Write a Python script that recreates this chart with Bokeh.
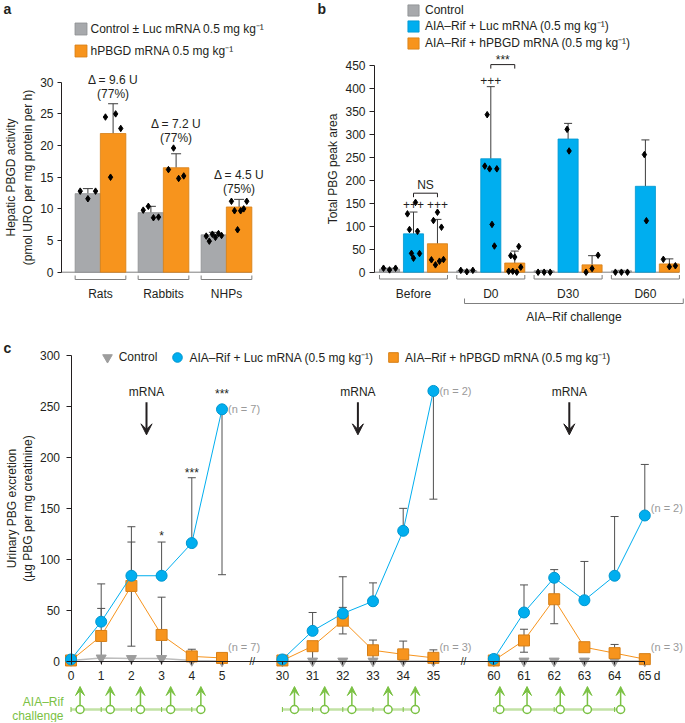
import numpy as np
from bokeh.plotting import figure
from bokeh.models import (Range1d, LinearAxis, FixedTicker, Whisker, TeeHead, Legend,
                          LegendItem, Arrow, VeeHead, ColumnDataSource)
from bokeh.layouts import column, row
from bokeh.embed import file_html
from bokeh.resources import INLINE
from bokeh.core.properties import value

FONT = "Liberation Sans"
INK = "#231F20"
GRAY = "#A7A9AC"; GRAY_EDGE = "#8D8F92"
ORANGE = "#F7941D"; ORANGE_EDGE = "#D67F17"
BLUE = "#00AEEF"; BLUE_EDGE = "#0096CF"
GREEN = "#7AC143"; GREEN_LIGHT = "#C2E2A5"
ERR = "#3C3C3C"
NCOL = "#9A9A9A"
BRACKET = "#7F7F7F"

# ---------------- panel a data ----------------
a_groups = ["Rats", "Rabbits", "NHPs"]
a_yticks = [0, 5, 10, 15, 20, 25, 30]
a_ctrl_mean = [12.4, 9.4, 5.9]
a_ctrl_upper = [13.2, 10.4, 6.3]
a_hp_mean = [21.9, 16.5, 10.3]
a_hp_upper = [26.6, 18.7, 11.5]
a_ctrl_pts = [[12.8, 11.6, 12.8], [9.8, 10.4, 8.6, 8.7], [5.7, 4.9, 6.0, 5.5, 6.1, 5.8]]
a_hp_pts = [[24.5, 15.0, 25.0, 22.7], [16.2, 19.6, 14.8, 15.2], [11.2, 9.7, 6.7, 9.7, 10.0, 11.2]]
a_delta = ["Δ = 9.6 U", "Δ = 7.2 U", "Δ = 4.5 U"]
a_pct = ["(77%)", "(77%)", "(75%)"]
a_legend = ["Control ± Luc mRNA 0.5 mg kg⁻¹", "hPBGD mRNA 0.5 mg kg⁻¹"]
a_ylabel = "Hepatic PBGD activity\n(pmol URO per mg protein per h)"

# ---------------- panel b data ----------------
b_groups = ["Before", "D0", "D30", "D60"]
b_yticks = list(range(0, 451, 50))
b_ctrl_mean = [6.5, 3.0, 3.0, 3.0]
b_ctrl_upper = [8.5, 4.5, 4.0, 4.0]
b_luc_mean = [83.5, 247.0, 290.0, 187.0]
b_luc_upper = [131.0, 404.0, 324.0, 288.0]
b_hp_mean = [62.0, 20.0, 16.0, 18.0]
b_hp_upper = [115.0, 46.0, 36.0, 29.0]
b_ctrl_pts = [[8.7, 5.0, 8.7], [4.0, 1.0, 4.0], [0.0, 0.0, 0.0], [0.0, 0.0, 0.0]]
b_luc_pts = [[127, 93, 41, 30.5, 152, 89, 40.6], [231, 343, 225, 104, 57, 225], [311, 264], [256, 112]]
b_hp_pts = [[27, 112.5, 16, 130.6, 24, 98, 27.6], [2, 36, 2, 33, 0, 56, 11], [0, 8, 37], [28, 12, 14]]
b_legend = ["Control", "AIA–Rif + Luc mRNA (0.5 mg kg⁻¹)", "AIA–Rif + hPBGD mRNA (0.5 mg kg⁻¹)"]
b_ylabel = "Total PBG peak area"
b_plus_y = [147, 147, 417]       # '+++' over Before-Luc, Before-hPBGD, D0-Luc
b_ns_y = 172                     # NS bracket height
b_star_y = 452                   # *** bracket height
b_challenge = "AIA–Rif challenge"

# ---------------- panel c data ----------------
c_days = [0, 1, 2, 3, 4, 5, 30, 31, 32, 33, 34, 35, 60, 61, 62, 63, 64, 65]
c_yticks = [0, 50, 100, 150, 200, 250, 300]
c_ctrl = [1.0, 3.5, 3.0, 3.0, 1.0, 0.5, 0.5, 0.5, 0.5, 0.5, 0.5, 0.5, 0.5, 0.5, 0.5, 0.5, 0.5, 0.5]
c_luc = [2, 39, 84, 84, 116, 247, 2, 30, 47, 59, 128, 265, 2.5, 48, 82, 60, 84, 143]
c_luc_lo = [2, 39, 84, 84, 116, 85, 2, 30, 47, 59, 128, 159, 2.5, 48, 82, 60, 84, 143]
c_luc_hi = [2, 76, 117, 117, 180, 247, 2, 48, 83, 77, 150, 265, 2.5, 75, 90, 98, 142, 193]
c_hp = [1, 25, 74, 26, 5, 3.5, 1, 15, 40, 11, 7, 3.6, 1, 20.6, 61, 14, 8.2, 2.3]
c_hp_lo = [1, 0, 15, 0, 5, 3.5, 1, 0, 27, 2.3, 7, 3.6, 1, 9.1, 37, 14, 8.2, 2.3]
c_hp_hi = [1, 52, 132, 63, 12, 7.5, 1, 15, 53, 21, 20, 11.4, 1, 31.6, 84, 14, 16.7, 2.3]
c_n_days = [5, 5, 35, 35, 65, 65]
c_n_y = [247, 14, 265, 14, 150, 14]
c_n_text = ["(n = 7)", "(n = 7)", "(n = 2)", "(n = 3)", "(n = 2)", "(n = 3)"]
c_mrna_days = [2.5, 32.5, 62.5]
c_sig_days = [3, 4, 5]
c_sig_text = ["*", "***", "***"]
c_sig_y = [126, 188, 265]
c_challenge_days = [0.3, 1.3, 2.3, 3.3, 4.3, 30.4, 31.4, 32.3, 33.5, 34.4, 60.2, 61.1, 62.2, 63.1, 64.2]
c_seg_starts = [0, 30, 60]
c_challenge_label = ["AIA–Rif", "challenge"]
c_legend = ["Control", "AIA–Rif + Luc mRNA (0.5 mg kg⁻¹)", "AIA–Rif + hPBGD mRNA (0.5 mg kg⁻¹)"]
c_ylabel = "Urinary PBG excretion\n(µg PBG per mg creatinine)"


# ---------------- helpers ----------------
class Frame:
    """A figure whose frame fills its canvas; positions given in page pixels."""
    def __init__(self, W, H, ox, oy, x_px, y_px, zx, zy):
        self.W, self.H, self.ox, self.oy = W, H, ox, oy
        self.x_px, self.y_px = x_px, y_px
        x0 = zx - ox
        y0 = zy - oy
        self.xs = -x0 / x_px
        self.ye = y0 / y_px
        self.p = figure(width=W, height=H,
                        x_range=Range1d(self.xs, (W - x0) / x_px),
                        y_range=Range1d(-(H - y0) / y_px, self.ye),
                        x_axis_type=None, y_axis_type=None, output_backend="svg",
                        toolbar_location=None, min_border=0, outline_line_color=None)
        self.p.background_fill_color = "white"
        self.p.border_fill_color = "white"

    def X(self, px):
        return self.xs + (px - self.ox) / self.x_px

    def Y(self, py):
        return self.ye - (py - self.oy) / self.y_px

    def dX(self, px):
        return px / self.x_px

    def dY(self, px):
        return px / self.y_px


def style_axis(ax, tick_out=4, standoff=4):
    ax.major_label_text_font = FONT
    ax.major_label_text_font_size = "12px"
    ax.major_label_text_color = INK
    ax.axis_label_text_font = FONT
    ax.axis_label_text_font_size = "12px"
    ax.axis_label_text_font_style = "normal"
    ax.axis_label_text_color = INK
    ax.axis_label_standoff = 2
    ax.minor_tick_line_color = None
    ax.axis_line_color = INK
    ax.major_tick_line_color = INK
    ax.major_tick_in = 0
    ax.major_tick_out = tick_out
    ax.major_label_standoff = standoff


def cat_axis(p, y_loc, labels):
    ax = LinearAxis(fixed_location=y_loc, ticker=FixedTicker(ticks=list(range(len(labels)))),
                    major_label_overrides={i: s for i, s in enumerate(labels)})
    style_axis(ax, tick_out=0, standoff=2)
    ax.axis_line_color = None
    ax.major_tick_line_color = None
    p.add_layout(ax, "below")


def txt(p, x, y, t, size="12px", align="center", color=INK, style="normal", baseline="middle"):
    p.text(x=x, y=y, text=t, text_font=value(FONT), text_font_size=size, text_align=align,
           text_baseline=baseline, text_color=color, text_font_style=style)


def jitter(n, width):
    if n == 1:
        return [0.0]
    half = (0.3 if n >= 3 else 0.05) * width
    return list(np.linspace(-half, half, n))


def bar_series(F, centers, means, uppers, pts, width, fill, edge, cap):
    p = F.p
    r = p.vbar(x=centers, top=means, bottom=0, width=width, fill_color=fill, line_color=edge,
               line_width=0.8)
    src = ColumnDataSource(dict(x=centers, lo=means, hi=uppers))
    p.add_layout(Whisker(base="x", lower="lo", upper="hi", source=src, line_color=ERR,
                         line_width=1, lower_head=None,
                         upper_head=TeeHead(size=cap, line_color=ERR, line_width=1)))
    xs, ys = [], []
    for c, vals in zip(centers, pts):
        for off, v in zip(jitter(len(vals), width), vals):
            xs.append(c + off)
            ys.append(v)
    p.scatter(xs, ys, marker="diamond", size=6.5, fill_color="black", line_color="black")
    return r


def legend(F, renderers, labels, left, bottom, gw, gh, spacing, standoff, orientation="vertical"):
    items = [LegendItem(label=l, renderers=[r]) for l, r in zip(labels, renderers)]
    lg = Legend(items=items, location=(left - F.ox, F.H - (bottom - F.oy)), orientation=orientation,
                glyph_width=gw, glyph_height=gh, label_height=gh, label_standoff=standoff,
                spacing=spacing, padding=0, margin=0, border_line_color=None,
                background_fill_alpha=0, label_text_font=FONT, label_text_font_size="12px",
                label_text_color=INK)
    F.p.add_layout(lg)


# ================= panel a =================
A = Frame(300, 330, 0, 0, 63.0, 6.333, 100.0, 271.7)
pa = A.p
ga = np.arange(len(a_groups), dtype=float)
bw_a, off_a = 0.405, 0.2
ya_loc = A.X(61)
ax = LinearAxis(fixed_location=ya_loc, bounds=(a_yticks[0], a_yticks[-1]),
                ticker=FixedTicker(ticks=a_yticks), axis_label=a_ylabel)
style_axis(ax, tick_out=4, standoff=4)
pa.add_layout(ax, "left")
last_edge = ga[-1] + off_a + bw_a / 2
pa.segment(x0=[ya_loc], y0=[0], x1=[last_edge], y1=[0], line_color=BRACKET, line_width=1)
ra1 = bar_series(A, list(ga - off_a), a_ctrl_mean, a_ctrl_upper, a_ctrl_pts, bw_a, GRAY, GRAY_EDGE, 10)
ra2 = bar_series(A, list(ga + off_a), a_hp_mean, a_hp_upper, a_hp_pts, bw_a, ORANGE, ORANGE_EDGE, 10)
half = off_a + bw_a / 2
yb = A.Y(279); tk = A.dY(4)
n = len(ga)
pa.segment(x0=list(ga - half), y0=[yb] * n, x1=list(ga + half), y1=[yb] * n, line_color=BRACKET)
pa.segment(x0=list(ga - half), y0=[yb] * n, x1=list(ga - half), y1=[yb + tk] * n, line_color=BRACKET)
pa.segment(x0=list(ga + half), y0=[yb] * n, x1=list(ga + half), y1=[yb + tk] * n, line_color=BRACKET)
cat_axis(pa, A.Y(284), a_groups)
tops = [max(u, max(pp)) for u, pp in zip(a_hp_upper, a_hp_pts)]
pct_y = [t + A.dY(10) for t in tops]
txt(pa, list(ga + off_a), pct_y, a_pct)
txt(pa, list(ga + off_a), [y + A.dY(14) for y in pct_y], a_delta)
legend(A, [ra1, ra2], a_legend, 72.5, 59, 15, 15, 5, 3)
txt(pa, [A.X(3)], [A.Y(8)], ["a"], size="14px", align="left", style="bold")

# ================= panel b =================
B = Frame(384, 330, 300, 0, 77.3, 0.4593, 413.0, 271.7)
pb = B.p
gb = np.arange(len(b_groups), dtype=float)
bw_b, off_b = 0.26, 0.31
yb_loc = B.X(374)
ax = LinearAxis(fixed_location=yb_loc, bounds=(b_yticks[0], b_yticks[-1]),
                ticker=FixedTicker(ticks=b_yticks), axis_label=b_ylabel)
style_axis(ax, tick_out=5, standoff=4)
pb.add_layout(ax, "left")
last_edge = gb[-1] + off_b + bw_b / 2
pb.segment(x0=[yb_loc], y0=[0], x1=[last_edge], y1=[0], line_color=BRACKET, line_width=1)
rb1 = bar_series(B, list(gb - off_b), b_ctrl_mean, b_ctrl_upper, b_ctrl_pts, bw_b, GRAY, GRAY_EDGE, 8)
rb2 = bar_series(B, list(gb), b_luc_mean, b_luc_upper, b_luc_pts, bw_b, BLUE, BLUE_EDGE, 8)
rb3 = bar_series(B, list(gb + off_b), b_hp_mean, b_hp_upper, b_hp_pts, bw_b, ORANGE, ORANGE_EDGE, 8)
half = off_b + bw_b / 2
n = len(gb)
yb = B.Y(278.5); tk = B.dY(4)
pb.segment(x0=list(gb - half), y0=[yb] * n, x1=list(gb + half), y1=[yb] * n, line_color=BRACKET)
pb.segment(x0=list(gb - half), y0=[yb] * n, x1=list(gb - half), y1=[yb + tk] * n, line_color=BRACKET)
pb.segment(x0=list(gb + half), y0=[yb] * n, x1=list(gb + half), y1=[yb + tk] * n, line_color=BRACKET)
cat_axis(pb, B.Y(284), b_groups)
# challenge bracket under D0..D60
cx0, cx1 = gb[1] - half + 0.1, gb[-1] + half + 0.05
ybb = B.Y(303); tk2 = B.dY(5)
pb.segment(x0=[cx0], y0=[ybb], x1=[cx1], y1=[ybb], line_color=BRACKET)
pb.segment(x0=[cx0, cx1], y0=[ybb, ybb], x1=[cx0, cx1], y1=[ybb + tk2, ybb + tk2], line_color=BRACKET)
txt(pb, [(cx0 + cx1) / 2], [B.Y(316)], [b_challenge])
# significance marks
txt(pb, [gb[0], gb[0] + off_b, gb[1]], b_plus_y, ["+++"] * 3)
tkd = B.dY(4)
for (xa_, xb_, yy, lab) in [(gb[0], gb[0] + off_b, b_ns_y, "NS"), (gb[1], gb[1] + off_b, b_star_y, "***")]:
    pb.segment(x0=[xa_], y0=[yy], x1=[xb_], y1=[yy], line_color=INK, line_width=1)
    pb.segment(x0=[xa_, xb_], y0=[yy, yy], x1=[xa_, xb_], y1=[yy - tkd, yy - tkd], line_color=INK)
    shift = B.dY(3) if lab == "***" else 0
    txt(pb, [(xa_ + xb_) / 2], [yy + B.dY(8) - shift], [lab])
legend(B, [rb1, rb2, rb3], b_legend, 406, 51, 14, 14, 0, 5)
txt(pb, [B.X(317)], [B.Y(8)], ["b"], size="14px", align="left", style="bold")

# ================= panel c =================
C = Frame(684, 392, 0, 330, 30.2, 1.021, 70.5, 661.0)
pc = C.p


def mday(d):
    d = np.asarray(d, dtype=float)
    return np.where(d >= 60, d - 46, np.where(d >= 30, d - 23, d))


def seg_of(d):
    return sum(d >= s for s in c_seg_starts) - 1


days_m = mday(c_days)
ayc = LinearAxis(fixed_location=0, bounds=(c_yticks[0], c_yticks[-1]),
                 ticker=FixedTicker(ticks=c_yticks), axis_label=c_ylabel)
style_axis(ayc, tick_out=5, standoff=6)
pc.add_layout(ayc, "left")
axc = LinearAxis(fixed_location=0, bounds=(float(days_m[0]), float(days_m[-1])),
                 ticker=FixedTicker(ticks=[float(v) for v in days_m]),
                 major_label_overrides={float(m): str(d) for m, d in zip(days_m, c_days)})
style_axis(axc, tick_out=3, standoff=6)
pc.add_layout(axc, "below")
txt(pc, [float(days_m[-1]) + C.dX(9)], [C.Y(675)], ["d"], align="left")
# axis breaks
seg_idx = [seg_of(d) for d in c_days]
segs = sorted(set(seg_idx))
firsts = [float(days_m[seg_idx.index(s)]) for s in segs]
lasts = [float(days_m[len(c_days) - 1 - seg_idx[::-1].index(s)]) for s in segs]
brk_x = [(lasts[i] + firsts[i + 1]) / 2 for i in range(len(segs) - 1)]
txt(pc, brk_x, [0] * len(brk_x), ["//"] * len(brk_x), size="10px")


def seg_lists(vals):
    xs, ys = [], []
    for s in segs:
        idx = [i for i, si in enumerate(seg_idx) if si == s]
        xs.append([float(days_m[i]) for i in idx])
        ys.append([vals[i] for i in idx])
    return xs, ys


# control
xs, ys = seg_lists(c_ctrl)
pc.multi_line(xs, ys, line_color="#BDBDBD", line_width=1.5)
rc1 = pc.scatter(list(days_m), c_ctrl, marker="inverted_triangle", size=10, fill_color="#9D9D9D",
                 line_color="#9D9D9D")
# error bars
for lo, hi in [(c_hp_lo, c_hp_hi), (c_luc_lo, c_luc_hi)]:
    src = ColumnDataSource(dict(x=list(days_m), lo=lo, hi=hi))
    pc.add_layout(Whisker(base="x", lower="lo", upper="hi", source=src, line_color="#505050",
                          line_width=1,
                          upper_head=TeeHead(size=8, line_color="#505050", line_width=1),
                          lower_head=TeeHead(size=8, line_color="#505050", line_width=1)))
xs, ys = seg_lists(c_hp)
pc.multi_line(xs, ys, line_color=ORANGE, line_width=1)
rc3 = pc.scatter(list(days_m), c_hp, marker="square", size=11, fill_color=ORANGE, line_color=ORANGE_EDGE)
xs, ys = seg_lists(c_luc)
pc.multi_line(xs, ys, line_color=BLUE, line_width=1)
rc2 = pc.scatter(list(days_m), c_luc, marker="circle", size=11, fill_color=BLUE, line_color=BLUE_EDGE)
# n labels
txt(pc, [float(v) + C.dX(6) for v in mday(c_n_days)], c_n_y, c_n_text, size="11px",
    align="left", color=NCOL)
# significance
txt(pc, [float(v) for v in mday(c_sig_days)], [y - C.dY(3) for y in c_sig_y], c_sig_text)
# mRNA arrows
mx = [float(v) for v in mday(c_mrna_days)]
txt(pc, mx, [264] * len(mx), ["mRNA"] * len(mx))
pc.add_layout(Arrow(end=VeeHead(size=11, fill_color=INK, line_color=INK),
                    source=ColumnDataSource(dict(x=mx, y0=[254] * len(mx), y1=[222] * len(mx))),
                    x_start="x", y_start="y0", x_end="x", y_end="y1", line_color=INK, line_width=2))
# challenge timeline
yl = C.Y(709)
chm = [float(v) for v in mday(c_challenge_days)]
for s in segs:
    inj = [d for d in c_challenge_days if seg_of(d) == s]
    start = c_seg_starts[s]
    x0s, x1s = float(mday(start)), float(mday(max(inj)))
    pc.segment(x0=[x0s], y0=[yl], x1=[x1s], y1=[yl], line_color=GREEN_LIGHT, line_width=2.5)
    tdays = [float(v) for v in mday(list(range(start, int(np.floor(max(inj))) + 1)))]
    pc.segment(x0=tdays, y0=[yl - C.dY(2.5)] * len(tdays), x1=tdays, y1=[yl + C.dY(2.5)] * len(tdays),
               line_color=GREEN, line_width=1)
pc.add_layout(Arrow(end=VeeHead(size=9, fill_color=GREEN, line_color=GREEN),
                    source=ColumnDataSource(dict(x=chm, y0=[yl + C.dY(4)] * len(chm),
                                                 y1=[C.Y(686)] * len(chm))),
                    x_start="x", y_start="y0", x_end="x", y_end="y1", line_color=GREEN, line_width=1.5))
pc.scatter(chm, [yl] * len(chm), marker="circle", size=8, fill_color="white", line_color=GREEN,
           line_width=1.5)
txt(pc, [C.X(63)] * 2, [C.Y(701), C.Y(715)], c_challenge_label, align="right", color=GREEN)
legend(C, [rc1, rc2, rc3], c_legend, 94.7, 369, 24, 24, 8, 0, orientation="horizontal")
txt(pc, [C.X(3)], [C.Y(347)], ["c"], size="14px", align="left", style="bold")

layout = column(row(pa, pb), pc)
open("out.html", "w").write(file_html(layout, INLINE))
